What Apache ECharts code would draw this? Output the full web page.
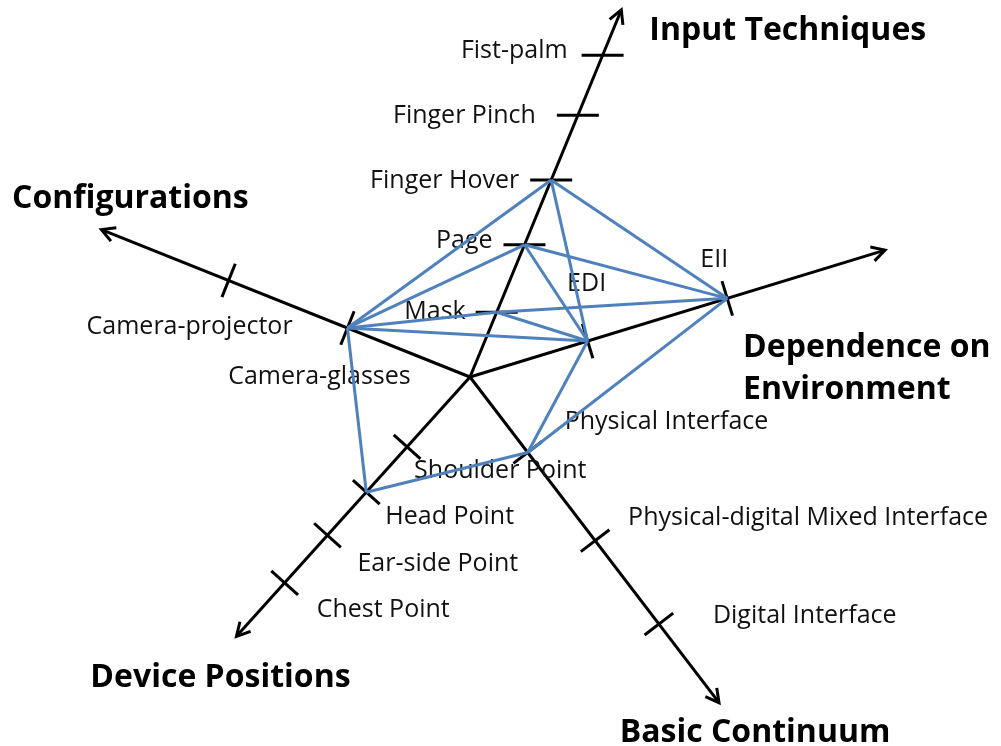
<!DOCTYPE html>
<html>
<head>
<meta charset="utf-8">
<script src="https://cdn.jsdelivr.net/npm/echarts@6/dist/echarts.min.js"></script>
<style>
  html, body { margin: 0; padding: 0; background: #fff; }
  #chart { width: 1001px; height: 746px; }
</style>
</head>
<body>
<div id="chart"></div>
<script>
// axes: direction in degrees (counter-clockwise from east) and length
const axisNames = ['Input Techniques', 'Dependence on\nEnvironment', 'Basic Continuum', 'Device Positions', 'Configurations'];
const axisAngles = [67.6, 17.0, 307.4, 228.0, 158.2];
const axisLengths = [397, 434, 410, 349, 397];

// ticks on every axis, distance from the centre
const inputLabels = ['Mask', 'Page', 'Finger Hover', 'Finger  Pinch', 'Fist-palm'];
const inputPos = [70, 143, 213, 283, 348];
const environmentLabels = ['EDI', 'EII'];
const environmentPos = [123, 269];
const continuumLabels = ['Physical Interface', 'Physical-digital Mixed Interface', 'Digital Interface'];
const continuumPos = [95, 206, 311];
const deviceLabels = ['Shoulder Point', 'Head Point', 'Ear-side Point', 'Chest Point'];
const devicePos = [94, 155, 213, 277];
const configLabels = ['Camera-glasses', 'Camera-projector'];
const configPos = [132, 260];

// blue connections between tick points
const links = [
  ['Finger Hover', 'Camera-glasses'],
  ['Finger Hover', 'EDI'],
  ['Finger Hover', 'EII'],
  ['Page', 'Camera-glasses'],
  ['Page', 'EDI'],
  ['Page', 'EII'],
  ['Mask', 'Camera-glasses'],
  ['Mask', 'EDI'],
  ['Mask', 'EII'],
  ['Camera-glasses', 'EDI'],
  ['Camera-glasses', 'Head Point'],
  ['Head Point', 'Physical Interface'],
  ['Physical Interface', 'EDI'],
  ['Physical Interface', 'EII']
];

// --- layout / style (not data) ---
const FONT = '"Open Sans", Lato, sans-serif';
const BLUE = '#4f81bd';
// where each axis title sits relative to the arrow tip: dx, dy, align
const titleLayout = [
  [28, 21, 'left'],
  [-142, 119, 'left'],
  [36, 30, 'center'],
  [-16, 42, 'center'],
  [29, -31, 'center']
];
// tick label offsets relative to tick point: dx, dy, align
const tickLabelLayout = {
  'Mask': [-31, 0, 'right'],
  'Page': [-32, -4, 'right'],
  'Finger Hover': [-32, 1, 'right'],
  'Finger  Pinch': [-42, 1, 'right'],
  'Fist-palm': [-35, -4, 'right'],
  'EDI': [-1, -57, 'center'],
  'EII': [-13, -38, 'center'],
  'Physical Interface': [37, -31, 'left'],
  'Physical-digital Mixed Interface': [33, -23, 'left'],
  'Digital Interface': [54, -8, 'left'],
  'Shoulder Point': [7, 24, 'left'],
  'Head Point': [19, 25, 'left'],
  'Ear-side Point': [30, 29, 'left'],
  'Chest Point': [32, 27, 'left'],
  'Camera-glasses': [-28, 49, 'center'],
  'Camera-projector': [-39, 46, 'center']
};
// input techniques axis uses horizontal ticks
const horizontalTickAxis = [true, false, false, false, false];

const tickGroups = [
  [inputLabels, inputPos],
  [environmentLabels, environmentPos],
  [continuumLabels, continuumPos],
  [deviceLabels, devicePos],
  [configLabels, configPos]
];

// flatten ticks
const ticks = [];
tickGroups.forEach(function (g, axisIdx) {
  g[0].forEach(function (name, k) {
    ticks.push({ name: name, axis: axisIdx, pos: g[1][k] });
  });
});
const tickByName = {};
ticks.forEach(function (t) { tickByName[t.name] = t; });

function unit(angle) {
  const r = angle * Math.PI / 180;
  return [Math.cos(r), -Math.sin(r)];
}

function renderAxis(params, api) {
  const i = params.dataIndex;
  const a = axisAngles[i];
  const o = api.coord([0, a]);
  const tip = api.coord([axisLengths[i], a]);
  const u = unit(a);
  const bx = -u[0], by = -u[1];
  const head = 15, sp = 0.5;
  const p1 = [tip[0] + head * (bx * Math.cos(sp) - by * Math.sin(sp)), tip[1] + head * (bx * Math.sin(sp) + by * Math.cos(sp))];
  const p2 = [tip[0] + head * (bx * Math.cos(-sp) - by * Math.sin(-sp)), tip[1] + head * (bx * Math.sin(-sp) + by * Math.cos(-sp))];
  const lay = titleLayout[i];
  return {
    type: 'group',
    children: [
      { type: 'line', shape: { x1: o[0], y1: o[1], x2: tip[0], y2: tip[1] }, style: { stroke: '#000', lineWidth: 3 } },
      { type: 'polyline', shape: { points: [p1, tip, p2] }, style: { stroke: '#000', lineWidth: 3, fill: null } },
      {
        type: 'text', x: tip[0] + lay[0], y: tip[1] + lay[1],
        style: {
          text: axisNames[i], fill: '#000', fontFamily: FONT, fontWeight: 'bold', fontSize: 32,
          lineHeight: 42, align: lay[2], verticalAlign: 'middle'
        }
      }
    ]
  };
}

function renderTick(params, api) {
  const t = ticks[params.dataIndex];
  const a = axisAngles[t.axis];
  const p = api.coord([t.pos, a]);
  const u = unit(a);
  let q1, q2;
  if (horizontalTickAxis[t.axis]) {
    q1 = [p[0] - 21, p[1]];
    q2 = [p[0] + 21, p[1]];
  } else {
    const n = [-u[1], u[0]];
    q1 = [p[0] - 18 * n[0], p[1] - 18 * n[1]];
    q2 = [p[0] + 18 * n[0], p[1] + 18 * n[1]];
  }
  const lay = tickLabelLayout[t.name];
  return {
    type: 'group',
    children: [
      { type: 'line', shape: { x1: q1[0], y1: q1[1], x2: q2[0], y2: q2[1] }, style: { stroke: '#000', lineWidth: 3 } },
      {
        type: 'text', x: p[0] + lay[0], y: p[1] + lay[1],
        style: {
          text: t.name.replace('  ', ' '), fill: '#111', fontFamily: FONT, fontSize: 25,
          align: lay[2], verticalAlign: 'middle'
        }
      }
    ]
  };
}

function renderLink(params, api) {
  const l = links[params.dataIndex];
  const s = tickByName[l[0]], e = tickByName[l[1]];
  const p1 = api.coord([s.pos, axisAngles[s.axis]]);
  const p2 = api.coord([e.pos, axisAngles[e.axis]]);
  return {
    type: 'line',
    shape: { x1: p1[0], y1: p1[1], x2: p2[0], y2: p2[1] },
    style: { stroke: BLUE, lineWidth: 3 }
  };
}

const chart = echarts.init(document.getElementById('chart'));
chart.setOption({
  backgroundColor: '#fff',
  animation: false,
  polar: { center: [470, 377], radius: 440 },
  angleAxis: { type: 'value', min: 0, max: 360, startAngle: 0, clockwise: false, show: false },
  radiusAxis: { type: 'value', min: 0, max: 440, show: false },
  series: [
    {
      type: 'custom', coordinateSystem: 'polar', silent: true, z: 1,
      renderItem: renderAxis,
      data: axisAngles.map(function (a, i) { return [axisLengths[i], a]; })
    },
    {
      type: 'custom', coordinateSystem: 'polar', silent: true, z: 3,
      renderItem: renderLink,
      data: links.map(function (l) { const s = tickByName[l[0]]; return [s.pos, axisAngles[s.axis]]; })
    },
    {
      type: 'custom', coordinateSystem: 'polar', silent: true, z: 2,
      renderItem: renderTick,
      data: ticks.map(function (t) { return [t.pos, axisAngles[t.axis]]; })
    }
  ]
});
</script>
</body>
</html>
